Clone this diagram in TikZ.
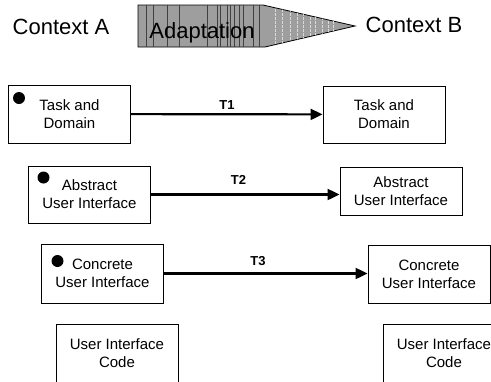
\documentclass[tikz,border=0pt]{standalone}
\usepackage{fontspec}
\setmainfont{Liberation Sans}
\usepackage{tikz}
\usetikzlibrary{arrows.meta,positioning}

\begin{document}
\begin{tikzpicture}[x=1pt,y=-1pt,
    box/.style={draw,line width=0.9pt,minimum width=122pt,align=center,
      font=\fontsize{15}{18}\selectfont},
    dot/.style={circle,fill=black,inner sep=0pt,minimum size=12pt},
    lbl/.style={font=\fontsize{13}{15}\bfseries\selectfont},
    ctx/.style={font=\fontsize{22}{26}\selectfont,anchor=base},
    arr/.style={line width=2.2pt,-{Triangle[length=12pt,width=11pt]}}]
    \useasboundingbox (0,0) rectangle (491,381);
    \clip (0,0) rectangle (491,381);
    % adaptation arrow
    \draw[line width=0.8pt,fill=black!38] (138,5) -- (263,5) -- (355,26) -- (265,47) -- (138,47) -- cycle;
    \begin{scope}
      \clip (138,5) -- (263,5) -- (355,26) -- (265,47) -- (138,47) -- cycle;
      \foreach \x in {146,153,167,179,207,217,220,227,230,234,239,243,253,259}
        \draw[black!75,line width=0.5pt] (\x,5) -- (\x,47);
      \foreach \x in {275,282,290,297,303,310,315,322,328,333}
        \draw[black!15,line width=0.5pt,dash pattern=on 3pt off 1pt] (\x,5) -- (\x,47);
    \end{scope}
    % context labels
    \node[ctx] (ca) at (61,34) {Context A};
    \node[ctx] (ad) at (202,38) {Adaptation};
    \node[ctx] (cb) at (414,32) {Context B};
    % left boxes
    \node[box,minimum height=58pt] (tdA) at (69.5,114) {Task and\\Domain};
    \node[box,minimum height=57pt] (auiA) at (89.5,194.5) {Abstract\\User Interface};
    \node[box,minimum height=59pt] (cuiA) at (102.5,273.5) {Concrete\\User Interface};
    \node[box,minimum height=58pt] (codeA) at (117,353) {User Interface\\Code};
    % right boxes
    \node[box,minimum height=57pt] (tdB) at (384,114.5) {Task and\\Domain};
    \node[box,minimum height=48pt] (auiB) at (401,191) {Abstract\\User Interface};
    \node[box,minimum height=58pt] (cuiB) at (429,274) {Concrete\\User Interface};
    \node[box,minimum height=58pt] (codeB) at (444,353) {User Interface\\Code};
    % dots
    \node[dot] (d1) at (19,98) {};
    \node[dot] (d2) at (43.5,177.5) {};
    \node[dot] (d3) at (57.5,261) {};
    % transformations
    \draw[arr] (tdA) -- (tdB);
    \draw[arr] (auiA.east) -- (auiA.east -| auiB.west);
    \draw[arr] (cuiA) -- (cuiA -| cuiB.west);
    \node[lbl] (t1) at (227,105) {T1};
    \node[lbl] (t2) at (238.5,180) {T2};
    \node[lbl] (t3) at (258,261.5) {T3};
\end{tikzpicture}
\end{document}
